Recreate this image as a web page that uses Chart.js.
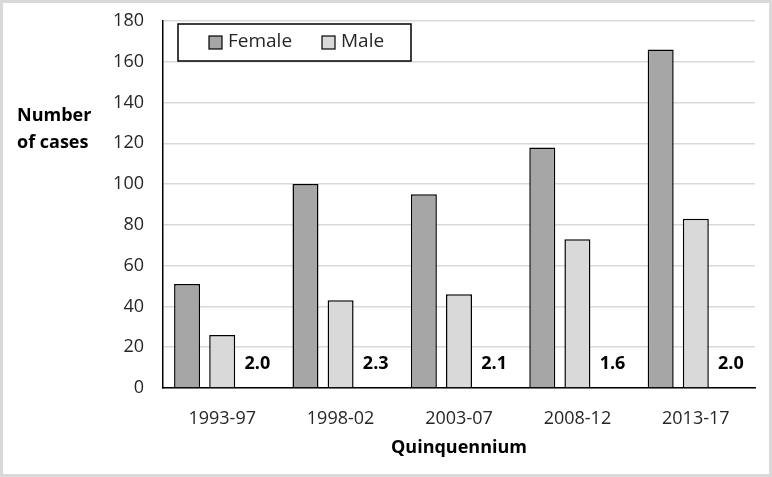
<!DOCTYPE html>
<html>
<head>
<meta charset="utf-8">
<script src="https://cdn.jsdelivr.net/npm/chart.js@4"></script>
<style>
  html, body { margin: 0; padding: 0; background: #fff; }
  #wrap { width: 772px; height: 477px; position: relative; }
</style>
</head>
<body>
<div id="wrap"><canvas id="chart" width="772" height="477"></canvas></div>
<script>
const periods = ["1993-97", "1998-02", "2003-07", "2008-12", "2013-17"];
const female = [51, 100, 95, 118, 166];
const male = [26, 43, 46, 73, 83];
const ratios = [2.0, 2.3, 2.1, 1.6, 2.0];
const yTicks = [0, 20, 40, 60, 80, 100, 120, 140, 160, 180];

const FONT = "'Open Sans', sans-serif";

// light grey frame round the whole picture
const framePlugin = {
  id: "frame",
  beforeDraw(chart) {
    const ctx = chart.ctx;
    ctx.save();
    ctx.fillStyle = "#fff";
    ctx.fillRect(0, 0, chart.width, chart.height);
    ctx.strokeStyle = "#d9d9d9";
    ctx.lineWidth = 3;
    ctx.strokeRect(1.5, 1.5, chart.width - 3, chart.height - 3);
    ctx.restore();
  }
};

// horizontal y title, legend box inside plot, ratio labels
const extrasPlugin = {
  id: "extras",
  afterDraw(chart) {
    const ctx = chart.ctx;
    const area = chart.chartArea;
    ctx.save();

    // y title
    ctx.fillStyle = "#000";
    ctx.font = "bold 18px " + FONT;
    ctx.textAlign = "left";
    ctx.textBaseline = "middle";
    ctx.fillText("Number", 17, 116);
    ctx.fillText("of cases", 17, 143);

    // ratio labels on the third slot of each group
    const meta = chart.getDatasetMeta(2);
    ctx.textAlign = "center";
    meta.data.forEach(function (bar, i) {
      ctx.fillText(ratios[i].toFixed(1), bar.x, area.bottom - 24);
    });

    // legend
    const bx = area.left + 15, by = area.top + 3, bw = 233, bh = 37;
    ctx.fillStyle = "#fff";
    ctx.fillRect(bx, by, bw, bh);
    ctx.strokeStyle = "#000";
    ctx.lineWidth = 1.5;
    ctx.strokeRect(bx, by, bw, bh);
    ctx.font = "19px " + FONT;
    ctx.textAlign = "left";
    [0, 1].forEach(function (d, k) {
      const ds = chart.data.datasets[d];
      const sx = bx + 31 + k * 113;
      const sy = by + 12;
      ctx.fillStyle = ds.backgroundColor;
      ctx.fillRect(sx, sy, 13, 13);
      ctx.strokeStyle = "#000";
      ctx.lineWidth = 1.2;
      ctx.strokeRect(sx, sy, 13, 13);
      ctx.fillStyle = "#262626";
      ctx.fillText(ds.label, sx + 19, sy + 6);
    });
    ctx.restore();
  }
};

const ctx = document.getElementById("chart").getContext("2d");
const myChart = new Chart(ctx, {
  type: "bar",
  data: {
    labels: periods,
    datasets: [
      {
        label: "Female",
        data: female,
        backgroundColor: "#a6a6a6",
        borderColor: "#000",
        borderWidth: 1.5,
      },
      {
        label: "Male",
        data: male,
        backgroundColor: "#d9d9d9",
        borderColor: "#000",
        borderWidth: 1.5,
      },
      {
        label: "Ratio",
        data: ratios.map(function () { return 0; }),
        backgroundColor: "rgba(0,0,0,0)",
        borderWidth: 0,
      },
    ],
  },
  options: {
    responsive: false,
    animation: false,
    categoryPercentage: 0.89,
    barPercentage: 0.74,
    layout: { padding: { left: 0, right: 17, top: 21, bottom: 0 } },
    plugins: {
      legend: { display: false },
      tooltip: { enabled: false },
    },
    scales: {
      x: {
        grid: { display: false, drawTicks: false },
        border: { display: true, color: "#000", width: 1.5 },
        ticks: { color: "#262626", font: { family: FONT, size: 18 }, padding: 20 },
        title: {
          display: true,
          text: "Quinquennium",
          color: "#000",
          font: { family: FONT, size: 18, weight: "bold" },
          padding: { top: 0, bottom: 18 },
        },
        afterFit: function (scale) {
          scale.height = 89;
          scale.paddingLeft = 0;
          scale.paddingRight = 0;
        },
      },
      y: {
        min: 0,
        max: 180,
        afterBuildTicks: function (scale) {
          scale.ticks = yTicks.map(function (v) { return { value: v }; });
        },
        grid: { color: "#d9d9d9", lineWidth: 1.5, drawTicks: false },
        border: { display: true, color: "#000", width: 1.5 },
        ticks: { color: "#262626", font: { family: FONT, size: 18 }, padding: 19 },
        afterFit: function (scale) {
          scale.width = 163;
          scale.paddingTop = 0;
          scale.paddingBottom = 0;
        },
      },
    },
  },
  plugins: [framePlugin, extrasPlugin],
});
</script>
</body>
</html>
